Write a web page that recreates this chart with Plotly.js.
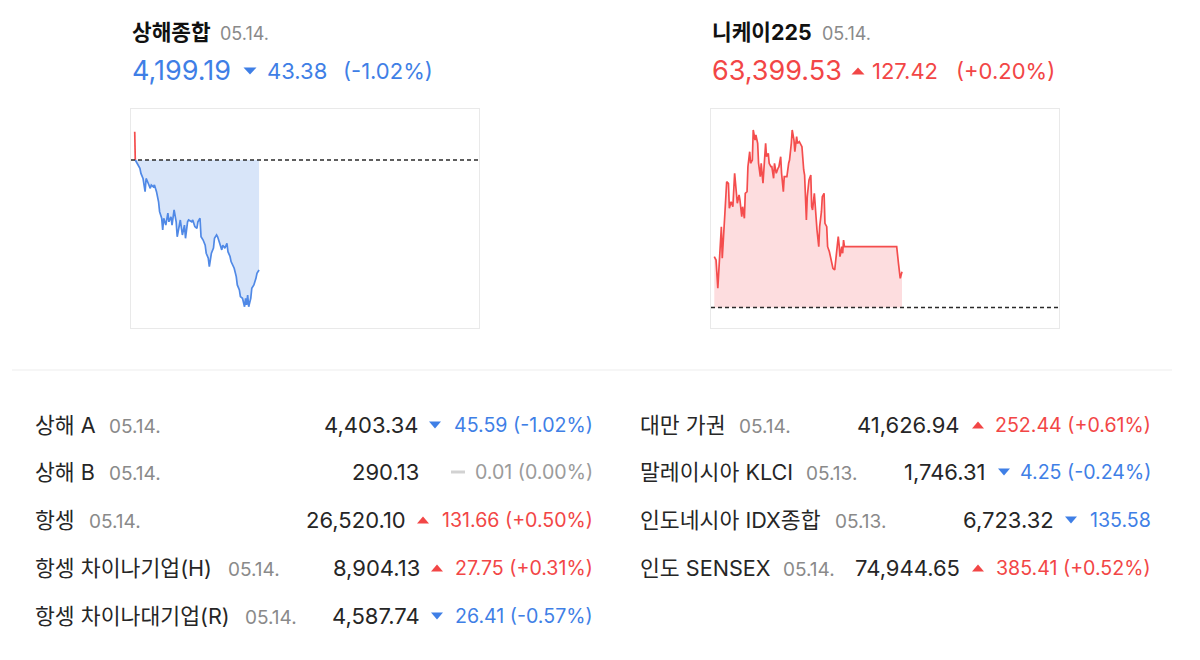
<!DOCTYPE html>
<html><head><meta charset="utf-8">
<script src="https://cdn.plot.ly/plotly-3.0.1.min.js"></script>
<style>html,body{margin:0;padding:0;background:#fff}#chart{width:1200px;height:660px}</style>
</head><body><div id="chart"></div>
<script>
// ---------------- DATA ----------------
// 상해종합 (minutes since 09:30 local, index values)
const shName = '상해종합', shDate = '05.14.';
const shLast = '4,199.19', shChange = '43.38', shPct = '(-1.02%)', shDir = 'down';
const shPrevClose = 4242.57;
const shMinutes = [0, 0.5, 2, 5, 6, 8, 10, 11, 13, 15, 16, 18, 19, 21, 23, 24, 26, 27, 28, 30, 32,
  33, 35, 36, 38, 40, 41, 43, 44, 46, 48, 49, 51, 52, 55, 56, 58, 60, 61, 63, 64,
  66, 68, 69, 71, 72, 74, 76, 77, 79, 80, 82, 84, 85, 87, 89, 90, 92, 93, 96, 98,
  99, 101, 102, 104, 106, 107, 108, 109, 110, 112, 113, 115, 117, 118, 120];
const shValues = [4253.7,
  4242.6, 4241.3, 4239.3, 4237.3, 4235.3, 4230.1, 4235.3, 4233.4, 4231.4, 4232.7,
  4232.0, 4232.7, 4230.1, 4226.1, 4222.2, 4219.6, 4215.0, 4219.6, 4216.9, 4221.6,
  4218.2, 4220.2, 4216.9, 4222.9, 4218.2, 4212.3, 4216.9, 4218.9, 4213.0, 4216.9,
  4211.7, 4218.2, 4218.9, 4218.2, 4218.9, 4216.3, 4215.6, 4218.2, 4219.6, 4212.3,
  4211.0, 4209.0, 4205.8, 4203.8, 4200.5, 4205.8, 4207.8, 4211.7, 4213.0, 4212.3,
  4209.7, 4207.1, 4209.0, 4207.8, 4209.7, 4206.4, 4204.5, 4202.5, 4199.9, 4196.6,
  4193.3, 4191.3, 4188.7, 4188.0, 4184.7, 4188.0, 4185.4, 4189.3, 4184.7, 4188.0,
  4192.0, 4193.3, 4195.9, 4197.9, 4199.19];

// 니케이225 (minutes since 09:00 local, index values)
const nkName = '니케이225', nkDate = '05.14.';
const nkLast = '63,399.53', nkChange = '127.42', nkPct = '(+0.20%)', nkDir = 'up';
const nkPrevClose = 63272.11;
const nkMinutes = [0, 2, 4, 6, 7, 8, 9, 11, 12, 14, 16, 17, 19, 21, 22, 23, 25, 26, 28, 29,
  31, 32, 34, 35, 37, 38, 40, 41, 43, 44, 46, 47, 49, 50, 52, 53, 55, 56, 58, 59,
  61, 62, 64, 65, 67, 68, 70, 72, 73, 75, 76, 78, 79, 81, 82, 84, 85, 87, 88, 90,
  91, 93, 94, 96,
  99, 101, 102, 104, 105, 107, 109, 110, 111, 113, 114, 115, 116, 118, 119, 121, 122, 124, 125, 127,
  128, 130, 131, 133, 134, 136, 137, 139, 140, 141, 142, 144, 145, 146, 147, 150, 206, 208, 210, 211, 212];
const nkValues = [63452.9, 63441.2, 63340.5, 63452.9, 63548.0, 63559.7, 63447.3, 63595.3, 63607.5, 63719.9,
  63714.3, 63625.3, 63648.7, 63630.9, 63696.5, 63749.9, 63678.7, 63643.1, 63672.6, 63654.8,
  63595.3, 63630.9, 63589.7, 63678.7, 63684.3, 63773.3, 63826.7, 63785.5, 63797.2, 63904.0,
  63868.4, 63886.2, 63856.7, 63785.5, 63737.7, 63785.5, 63714.3, 63761.6, 63856.7, 63808.9,
  63821.1, 63785.5, 63773.3, 63773.3, 63732.0, 63785.5, 63749.9, 63767.7, 63773.3, 63808.9,
  63749.9, 63684.3, 63737.7, 63737.7, 63737.7, 63785.5, 63797.2, 63856.7, 63904.0, 63868.4,
  63826.7, 63880.1, 63856.7, 63862.3,
  63844.5, 63761.6, 63743.8, 63583.6, 63666.5, 63726.0, 63743.8, 63630.9, 63619.2, 63678.7,
  63625.3, 63607.5, 63548.0, 63488.5, 63559.7, 63613.1, 63666.5, 63678.7, 63571.9, 63559.7,
  63488.5, 63470.7, 63452.9, 63417.3, 63411.7, 63405.6, 63441.2, 63482.9, 63524.1, 63494.6,
  63452.9, 63488.5, 63465.1, 63512.4, 63488.5, 63488.5, 63488.5, 63429.5, 63376.1, 63387.8, 63399.53];

// 하단 지수 목록
const tableNames = ['상해 A', '상해 B', '항셍', '항셍 차이나기업(H)', '항셍 차이나대기업(R)',
  '대만 가권', '말레이시아 KLCI', '인도네시아 IDX종합', '인도 SENSEX'];
const tableDates = ['05.14.', '05.14.', '05.14.', '05.14.', '05.14.', '05.14.', '05.13.', '05.13.', '05.14.'];
const tableValues = ['4,403.34', '290.13', '26,520.10', '8,904.13', '4,587.74',
  '41,626.94', '1,746.31', '6,723.32', '74,944.65'];
const tableChanges = ['45.59', '0.01', '131.66', '27.75', '26.41', '252.44', '4.25', '135.58', '385.41'];
const tablePcts = ['(-1.02%)', '(0.00%)', '(+0.50%)', '(+0.31%)', '(-0.57%)', '(+0.61%)', '(-0.24%)', '', '(+0.52%)'];
const tableDirs = ['down', 'flat', 'up', 'up', 'down', 'up', 'down', 'down', 'up'];

// ---------------- STYLE / LAYOUT ----------------
const W = 1200, H = 660;
const FONT = "Inter, 'Noto Sans CJK KR', sans-serif";
const COLORS = {
  up: '#f24646', down: '#3f7fe6', flat: '#9b9b9b',
  upLine: '#f44d4d', downLine: '#5089e6', upFill: 'rgba(252,210,212,0.75)', downFill: 'rgba(200,218,246,0.7)',
  text: '#262626', date: '#8a8a8a', icon: {up: '#f24646', down: '#3f7fe6', flat: '#d2d2d2'}
};
// table row placement (pixels)
const rowPos = [
  {y: 425, name: 34, date: 108, val: 420, icon: 435, chg: 594},
  {y: 472, name: 34, date: 108, val: 420, icon: 458, chg: 594},
  {y: 520, name: 34, date: 88, val: 407, icon: 423, chg: 594},
  {y: 568, name: 34, date: 227, val: 421, icon: 437, chg: 594},
  {y: 616, name: 34, date: 244, val: 421, icon: 437, chg: 594},
  {y: 425, name: 639, date: 738, val: 961, icon: 978, chg: 1152},
  {y: 472, name: 639, date: 805, val: 987, icon: 1004, chg: 1152},
  {y: 520, name: 639, date: 834, val: 1055, icon: 1071, chg: 1152},
  {y: 568, name: 639, date: 782, val: 961, icon: 978, chg: 1152}
];

const px = v => v / W, py = v => 1 - v / H;

function ann(text, x, y, size, color, anchor, extra) {
  return Object.assign({
    text: text, x: px(x), y: py(y), xref: 'paper', yref: 'paper', showarrow: false,
    xanchor: anchor || 'left', yanchor: 'middle', borderpad: 0,
    font: {family: FONT, size: size, color: color}
  }, extra || {});
}
function iconShape(dir, cx, cy, w, h) {
  const c = COLORS.icon[dir];
  if (dir === 'flat') {
    return {type: 'rect', xref: 'paper', yref: 'paper', x0: px(cx - 7), x1: px(cx + 7),
      y0: py(cy - 1.5), y1: py(cy + 1.5), fillcolor: c, line: {width: 0}};
  }
  let p;
  if (dir === 'down') p = `M ${px(cx - w / 2)},${py(cy - h / 2)} L ${px(cx + w / 2)},${py(cy - h / 2)} L ${px(cx)},${py(cy + h / 2)} Z`;
  else p = `M ${px(cx - w / 2)},${py(cy + h / 2)} L ${px(cx + w / 2)},${py(cy + h / 2)} L ${px(cx)},${py(cy - h / 2)} Z`;
  return {type: 'path', xref: 'paper', yref: 'paper', path: p, fillcolor: c, line: {width: 0}};
}

// split a series at the reference level into above / below parts
function splitSeries(xs, ys, ref) {
  const X = [], Y = [];
  for (let i = 0; i < xs.length; i++) {
    X.push(xs[i]); Y.push(ys[i]);
    if (i < xs.length - 1 && (ys[i] - ref) * (ys[i + 1] - ref) < 0) {
      const t = (ref - ys[i]) / (ys[i + 1] - ys[i]);
      X.push(xs[i] + t * (xs[i + 1] - xs[i])); Y.push(ref);
    }
  }
  const up = Y.map(v => v >= ref ? v : null);
  const dn = Y.map(v => v <= ref ? v : null);
  const revX = X.slice().reverse();
  const polyX = X.concat(revX);
  const upPolyY = Y.map(v => Math.max(v, ref)).concat(revX.map(() => ref));
  const dnPolyY = Y.map(v => Math.min(v, ref)).concat(revX.map(() => ref));
  return {X, up, dn, polyX, upPolyY, dnPolyY};
}

function chartTraces(xs, ys, ref, xa, ya) {
  const s = splitSeries(xs, ys, ref);
  const base = {xaxis: xa, yaxis: ya, hoverinfo: 'skip', showlegend: false, type: 'scatter'};
  return [
    Object.assign({x: s.polyX, y: s.upPolyY, mode: 'lines', fill: 'toself', fillcolor: COLORS.upFill, line: {width: 0}}, base),
    Object.assign({x: s.polyX, y: s.dnPolyY, mode: 'lines', fill: 'toself', fillcolor: COLORS.downFill, line: {width: 0}}, base),
    Object.assign({x: s.X, y: s.up, mode: 'lines', line: {color: COLORS.upLine, width: 1.7}, connectgaps: false}, base),
    Object.assign({x: s.X, y: s.dn, mode: 'lines', line: {color: COLORS.downLine, width: 1.7}, connectgaps: false}, base)
  ];
}

const data = chartTraces(shMinutes, shValues, shPrevClose, 'x', 'y')
  .concat(chartTraces(nkMinutes, nkValues, nkPrevClose, 'x2', 'y2'));

const axBase = {showgrid: false, zeroline: false, showticklabels: false, ticks: '', showline: true,
  mirror: true, linecolor: '#e9e9e9', linewidth: 1, fixedrange: true};
const yDomain = [py(328), py(109)];

const annotations = [];
const shapes = [];

// headers
function header(x0, name, date, dateX, last, dir, chg, chgX, pct, pctX, iconX) {
  const col = COLORS[dir];
  annotations.push(ann('<b>' + name + '</b>', x0, 32, 21.4, '#111111'));
  annotations.push(ann(date, dateX, 33, 18, COLORS.date));
  annotations.push(ann(last, x0, 71, 27, col));
  annotations.push(ann(chg, chgX, 71, 22, col));
  annotations.push(ann(pct, pctX, 71, 22, col));
  shapes.push(iconShape(dir, iconX, 71, 13, 7));
}
header(131, shName, shDate, 219, shLast, shDir, shChange, 266, shPct, 342, 250);
header(711, nkName, nkDate, 821, nkLast, nkDir, nkChange, 871, nkPct, 955, 858);

// reference lines
shapes.push({type: 'line', xref: 'x domain', yref: 'y', x0: 0, x1: 1, y0: shPrevClose, y1: shPrevClose,
  line: {color: '#2a2a2a', width: 1.6, dash: '4px,3px'}});
shapes.push({type: 'line', xref: 'x2 domain', yref: 'y2', x0: 0, x1: 1, y0: nkPrevClose, y1: nkPrevClose,
  line: {color: '#2a2a2a', width: 1.6, dash: '4px,3px'}});
// separator
shapes.push({type: 'line', xref: 'paper', yref: 'paper', x0: px(12), x1: px(1172), y0: py(370), y1: py(370),
  line: {color: '#ededed', width: 1}});

// table
tableNames.forEach((nm, i) => {
  const p = rowPos[i];
  const dir = tableDirs[i];
  annotations.push(ann(nm, p.name, p.y, 21.6, COLORS.text));
  annotations.push(ann(tableDates[i], p.date, p.y + 1, 19, COLORS.date));
  annotations.push(ann(tableValues[i], p.val, p.y, 22, COLORS.text, 'right'));
  const chgText = tablePcts[i] ? tableChanges[i] + ' ' + tablePcts[i] : tableChanges[i];
  annotations.push(ann(chgText, p.chg, p.y, 19.6, COLORS[dir], 'right'));
  shapes.push(iconShape(dir, p.icon, p.y, 12, 7));
});

const layout = {
  width: W, height: H, margin: {l: 0, r: 0, t: 0, b: 0},
  paper_bgcolor: '#ffffff', plot_bgcolor: '#ffffff',
  xaxis: Object.assign({domain: [px(131), px(479)], range: [-3.6, 332.3]}, axBase),
  yaxis: Object.assign({domain: yDomain, range: [4176.3, 4262.7]}, axBase),
  xaxis2: Object.assign({domain: [px(711), px(1059)], range: [-3.7, 389.3], anchor: 'y2'}, axBase),
  yaxis2: Object.assign({domain: yDomain, range: [63199.1, 63978.8], anchor: 'x2'}, axBase),
  annotations: annotations, shapes: shapes, showlegend: false
};

Plotly.newPlot('chart', data, layout, {staticPlot: true, displayModeBar: false});
</script></body></html>
